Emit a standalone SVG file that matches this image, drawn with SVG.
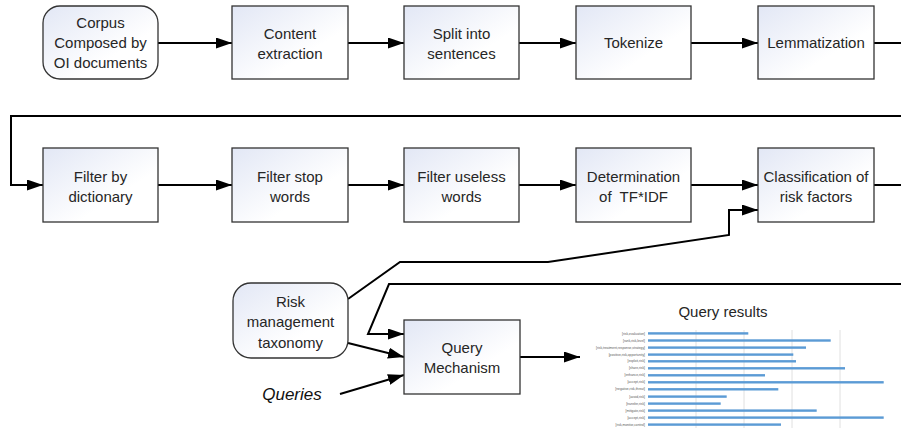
<svg xmlns="http://www.w3.org/2000/svg" width="901" height="429" viewBox="0 0 901 429">
<style>
.box{fill:url(#g);stroke:#333;stroke-width:1.3}
.t{font-family:"Liberation Sans",Arial,sans-serif;font-size:15px;fill:#262626;text-anchor:middle}
.c{fill:none;stroke:#000;stroke-width:2}
.a{marker-end:url(#ah)}
.bar{fill:#5b9bd5}
.grid{stroke:#e0e0e0;stroke-width:1}
.lbl{font-family:"Liberation Sans",Arial,sans-serif;font-size:3.3px;fill:#595959;text-anchor:end}
</style>
<defs>
<linearGradient id="g" x1="0" y1="0" x2="1" y2="1">
<stop offset="0" stop-color="#e2e7f5"/>
<stop offset="0.65" stop-color="#ffffff"/>
</linearGradient>
<marker id="ah" markerUnits="userSpaceOnUse" markerWidth="17" markerHeight="12" refX="16" refY="5.5" orient="auto">
<path d="M0,0 L16,5.5 L0,11 z" fill="#000"/>
</marker>
</defs>
<rect width="901" height="429" fill="#fff"/>

<g id="connectors">
<path class="c a" d="M158,43 H232"/>
<path class="c a" d="M348,43 H404"/>
<path class="c a" d="M519,43 H576"/>
<path class="c a" d="M691,43 H758"/>
<path class="c" d="M874,43 H905"/>
<path class="c a" d="M905,116 H11 V185 H43"/>
<path class="c a" d="M158,185 H232"/>
<path class="c a" d="M348,185 H404"/>
<path class="c a" d="M519,185 H576"/>
<path class="c a" d="M691,185 H758"/>
<path class="c" d="M874,185 H905"/>
<path class="c a" d="M348,299 L400,262 L548,262 L729,235 V210 H758"/>
<path class="c a" d="M905,284 H389 L368,334 H404"/>
<path class="c a" d="M348,343 L404,357"/>
<path class="c a" d="M340,394 L404,375"/>
<path class="c a" d="M520,357 H580"/>
</g>

<g id="corpus">
<rect class="box" x="43" y="6" width="115" height="73" rx="17"/>
<text class="t" x="100.5" y="28">Corpus</text>
<text class="t" x="100.5" y="48">Composed by</text>
<text class="t" x="100.5" y="68">OI documents</text>
</g>
<g id="content-extraction">
<rect class="box" x="232" y="6" width="116" height="73"/>
<text class="t" x="290" y="39">Content</text>
<text class="t" x="290" y="59">extraction</text>
</g>
<g id="split">
<rect class="box" x="404" y="6" width="115" height="73"/>
<text class="t" x="461.5" y="39">Split into</text>
<text class="t" x="461.5" y="59">sentences</text>
</g>
<g id="tokenize">
<rect class="box" x="576" y="6" width="115" height="73"/>
<text class="t" x="633.5" y="48">Tokenize</text>
</g>
<g id="lemmatization">
<rect class="box" x="758" y="6" width="116" height="73"/>
<text class="t" x="816" y="48">Lemmatization</text>
</g>

<g id="filter-dictionary">
<rect class="box" x="43" y="148" width="115" height="74"/>
<text class="t" x="100.5" y="181.5">Filter by</text>
<text class="t" x="100.5" y="201.5">dictionary</text>
</g>
<g id="filter-stop">
<rect class="box" x="232" y="148" width="116" height="74"/>
<text class="t" x="290" y="181.5">Filter stop</text>
<text class="t" x="290" y="201.5">words</text>
</g>
<g id="filter-useless">
<rect class="box" x="404" y="148" width="115" height="74"/>
<text class="t" x="461.5" y="181.5">Filter useless</text>
<text class="t" x="461.5" y="201.5">words</text>
</g>
<g id="tfidf">
<rect class="box" x="576" y="148" width="115" height="74"/>
<text class="t" x="633.5" y="181.5">Determination</text>
<text class="t" x="633.5" y="201.5">of&#160; TF*IDF</text>
</g>
<g id="classification">
<rect class="box" x="758" y="148" width="116" height="74"/>
<text class="t" x="816" y="181.5">Classification of</text>
<text class="t" x="816" y="201.5">risk factors</text>
</g>

<g id="risk-taxonomy">
<rect class="box" x="233" y="283" width="115" height="75" rx="18"/>
<text class="t" x="290.5" y="306.5">Risk</text>
<text class="t" x="290.5" y="327">management</text>
<text class="t" x="290.5" y="347.5">taxonomy</text>
</g>
<g id="query-mechanism">
<rect class="box" x="404" y="320" width="116" height="74"/>
<text class="t" x="462" y="353">Query</text>
<text class="t" x="462" y="373">Mechanism</text>
</g>
<g id="queries">
<text x="292" y="400" style="font-family:'Liberation Sans',Arial,sans-serif;font-size:17px;font-style:italic;fill:#111;text-anchor:middle">Queries</text>
</g>

<g id="query-results">
<text x="723" y="317" style="font-family:'Liberation Sans',Arial,sans-serif;font-size:15px;fill:#262626;text-anchor:middle">Query results</text>
<line class="grid" x1="696" y1="330" x2="696" y2="428"/>
<line class="grid" x1="744" y1="330" x2="744" y2="428"/>
<line class="grid" x1="792" y1="330" x2="792" y2="428"/>
<line class="grid" x1="840" y1="330" x2="840" y2="428"/>
<rect class="bar" x="648" y="332.2" width="100.3" height="2.4"/>
<rect class="bar" x="648" y="339.3" width="182.7" height="2.4"/>
<rect class="bar" x="648" y="346.4" width="158" height="2.4"/>
<rect class="bar" x="648" y="353.4" width="145.3" height="2.4"/>
<rect class="bar" x="648" y="360.1" width="148" height="2.4"/>
<rect class="bar" x="648" y="367.1" width="197" height="2.4"/>
<rect class="bar" x="648" y="374.1" width="117" height="2.4"/>
<rect class="bar" x="648" y="381.1" width="235.7" height="2.4"/>
<rect class="bar" x="648" y="388.1" width="130.3" height="2.4"/>
<rect class="bar" x="648" y="395.4" width="78.7" height="2.4"/>
<rect class="bar" x="648" y="402.4" width="72.7" height="2.4"/>
<rect class="bar" x="648" y="409.4" width="168.7" height="2.4"/>
<rect class="bar" x="648" y="416.4" width="235.7" height="2.4"/>
<rect class="bar" x="648" y="423.4" width="133" height="2.4"/>
<text class="lbl" x="645" y="334.5">[risk,evaluation]</text>
<text class="lbl" x="645" y="341.6">[rank,risk,level]</text>
<text class="lbl" x="645" y="348.7">[risk,treatment,response,strategy]</text>
<text class="lbl" x="645" y="355.7">[positive,risk,opportunity]</text>
<text class="lbl" x="645" y="362.4">[exploit,risk]</text>
<text class="lbl" x="645" y="369.4">[share,risk]</text>
<text class="lbl" x="645" y="376.4">[enhance,risk]</text>
<text class="lbl" x="645" y="383.4">[accept,risk]</text>
<text class="lbl" x="645" y="390.4">[negative,risk,threat]</text>
<text class="lbl" x="645" y="397.7">[avoid,risk]</text>
<text class="lbl" x="645" y="404.7">[transfer,risk]</text>
<text class="lbl" x="645" y="411.7">[mitigate,risk]</text>
<text class="lbl" x="645" y="418.7">[accept,risk]</text>
<text class="lbl" x="645" y="425.7">[risk,monitor,control]</text>
</g>
</svg>
